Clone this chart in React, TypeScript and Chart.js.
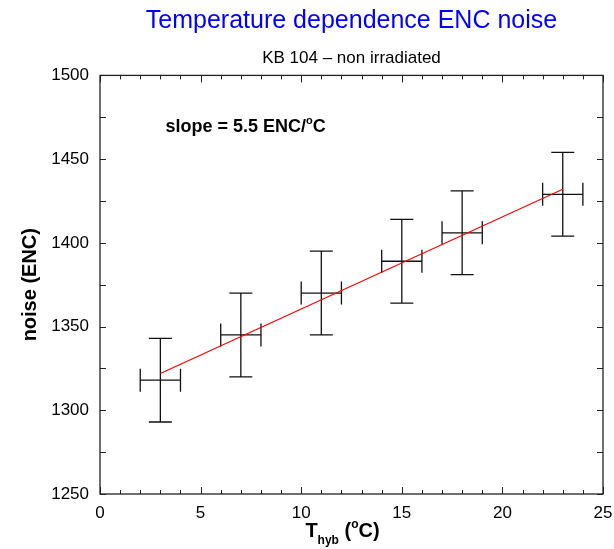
import React, { useEffect, useRef } from "react";
import { Chart, registerables } from "chart.js";

Chart.register(...registerables);

// ---- data ----
const temperatures = [3, 7, 11, 15, 18, 23];
const noise = [1318, 1345, 1370, 1389, 1406, 1429];
const tempErr = [1, 1, 1, 1, 1, 1];
const noiseErr = [25, 25, 25, 25, 25, 25];
const fitX = [3, 23];
const fitY = [1322, 1432];
const xTickValues = [0, 5, 10, 15, 20, 25];
const yTickValues = [1250, 1300, 1350, 1400, 1450, 1500];

const titleText = "Temperature dependence ENC noise";
const subtitleText = "KB 104 \u2013 non irradiated";
const yTitleText = "noise (ENC)";
const slopeMain = "slope = 5.5 ENC/";
const slopeSup = "o";
const slopeEnd = "C";

const FONT = "'Liberation Sans', Arial, Helvetica, sans-serif";

const decorPlugin = {
  id: "decor",
  beforeDatasetsDraw(chart: any) {
    const { ctx, scales } = chart;
    const xs = scales.x;
    const ys = scales.y;
    ctx.save();
    ctx.strokeStyle = "#111";
    ctx.lineWidth = 1.3;
    const cap = 11.5;
    for (let i = 0; i < temperatures.length; i++) {
      const px = xs.getPixelForValue(temperatures[i]);
      const py = ys.getPixelForValue(noise[i]);
      const x0 = xs.getPixelForValue(temperatures[i] - tempErr[i]);
      const x1 = xs.getPixelForValue(temperatures[i] + tempErr[i]);
      const y0 = ys.getPixelForValue(noise[i] - noiseErr[i]);
      const y1 = ys.getPixelForValue(noise[i] + noiseErr[i]);
      ctx.beginPath();
      ctx.moveTo(px, y0);
      ctx.lineTo(px, y1);
      ctx.moveTo(px - cap, y0);
      ctx.lineTo(px + cap, y0);
      ctx.moveTo(px - cap, y1);
      ctx.lineTo(px + cap, y1);
      ctx.moveTo(x0, py);
      ctx.lineTo(x1, py);
      ctx.moveTo(x0, py - cap);
      ctx.lineTo(x0, py + cap);
      ctx.moveTo(x1, py - cap);
      ctx.lineTo(x1, py + cap);
      ctx.stroke();
    }
    ctx.restore();
  },
  afterDraw(chart: any) {
    const { ctx, chartArea, scales } = chart;
    const xs = scales.x;
    const ys = scales.y;
    const { left, right, top, bottom } = chartArea;
    ctx.save();
    ctx.strokeStyle = "#222";
    ctx.lineWidth = 1.3;
    ctx.strokeRect(left, top, right - left, bottom - top);
    ctx.beginPath();
    for (let v = xs.min; v <= xs.max; v += 1) {
      const px = Math.round(xs.getPixelForValue(v)) + 0.5;
      const len = v % 5 === 0 ? 7 : 4;
      ctx.moveTo(px, bottom);
      ctx.lineTo(px, bottom - len);
      ctx.moveTo(px, top);
      ctx.lineTo(px, top + len);
    }
    for (let v = ys.min; v <= ys.max; v += 25) {
      const py = Math.round(ys.getPixelForValue(v)) + 0.5;
      const len = 6;
      ctx.moveTo(left, py);
      ctx.lineTo(left + len, py);
      ctx.moveTo(right, py);
      ctx.lineTo(right - len, py);
    }
    ctx.lineWidth = 1;
    ctx.stroke();

    // x-axis title: T_hyb (°C)
    ctx.fillStyle = "#000";
    ctx.textBaseline = "alphabetic";
    ctx.textAlign = "left";
    const big = "bold 20px " + FONT;
    const small = "bold 12px " + FONT;
    const parts: [string, string, number][] = [
      ["T", big, 0],
      ["hyb", small, 7],
      [" (", big, 0],
      ["o", small, -9],
      ["C)", big, 0],
    ];
    let total = 0;
    for (const [t, f] of parts) {
      ctx.font = f;
      total += ctx.measureText(t).width;
    }
    let cx = (left + right) / 2 - 9 - total / 2;
    const baseY = bottom + 43;
    for (const [t, f, dy] of parts) {
      ctx.font = f;
      ctx.fillText(t, cx, baseY + dy);
      cx += ctx.measureText(t).width;
    }

    // slope annotation
    const sx = xs.getPixelForValue(3.25);
    const sy = ys.getPixelForValue(1466);
    ctx.font = "bold 18px " + FONT;
    ctx.fillText(slopeMain, sx, sy);
    let w = ctx.measureText(slopeMain).width;
    ctx.font = "bold 11px " + FONT;
    ctx.fillText(slopeSup, sx + w, sy - 8);
    w += ctx.measureText(slopeSup).width;
    ctx.font = "bold 18px " + FONT;
    ctx.fillText(slopeEnd, sx + w, sy);
    ctx.restore();
  },
};

export default function App() {
  const ref = useRef<HTMLCanvasElement | null>(null);

  useEffect(() => {
    if (!ref.current) return;
    Chart.defaults.font.family = FONT;
    const chart = new Chart(ref.current, {
      type: "scatter",
      data: {
        datasets: [
          {
            label: "measurements",
            data: temperatures.map((t, i) => ({ x: t, y: noise[i] })),
            pointRadius: 0,
            showLine: false,
          },
          {
            label: "fit",
            data: fitX.map((t, i) => ({ x: t, y: fitY[i] })),
            showLine: true,
            borderColor: "#ff0000",
            borderWidth: 1.2,
            pointRadius: 0,
            fill: false,
          },
        ],
      },
      options: {
        animation: false,
        responsive: false,
        layout: { padding: { left: 0, right: 11, top: 0, bottom: 0 } },
        plugins: {
          legend: { display: false },
          tooltip: { enabled: false },
          title: {
            display: true,
            text: titleText,
            color: "#0000ff",
            fullSize: false,
            font: { size: 25, weight: "normal", family: FONT },
            padding: { top: 6, bottom: 0 },
          },
          subtitle: {
            display: true,
            text: subtitleText,
            color: "#000",
            fullSize: false,
            font: { size: 17, weight: "normal", family: FONT },
            padding: { top: 12, bottom: 7 },
          },
        },
        scales: {
          x: {
            type: "linear",
            min: 0,
            max: 25,
            afterFit: (s: any) => {
              s.height = 55;
              s.paddingLeft = 0;
              s.paddingRight = 0;
            },
            afterBuildTicks: (s: any) => {
              s.ticks = xTickValues.map((v) => ({ value: v }));
            },
            grid: { display: false, drawTicks: false },
            border: { display: false },
            ticks: {
              color: "#000",
              font: { size: 17, family: FONT },
              padding: 9,
              maxRotation: 0,
              callback: (v: any) => String(v),
            },
          },
          y: {
            type: "linear",
            min: 1250,
            max: 1500,
            afterFit: (s: any) => {
              s.width = 100;
              s.paddingTop = 0;
              s.paddingBottom = 0;
            },
            afterBuildTicks: (s: any) => {
              s.ticks = yTickValues.map((v) => ({ value: v }));
            },
            grid: { display: false, drawTicks: false },
            border: { display: false },
            title: {
              display: true,
              text: yTitleText,
              color: "#000",
              font: { size: 20, weight: "bold", family: FONT },
              padding: { top: 18, bottom: 0 },
            },
            ticks: {
              color: "#000",
              font: { size: 17, family: FONT },
              padding: 11,
              callback: (v: any) => String(v),
            },
          },
        },
      },
      plugins: [decorPlugin],
    } as any);
    return () => chart.destroy();
  }, []);

  return (
    <div style={{ position: "fixed", left: 0, top: 0, width: 614, height: 549, background: "#fff" }}>
      <canvas ref={ref} width={614} height={549} style={{ display: "block" }} />
    </div>
  );
}
